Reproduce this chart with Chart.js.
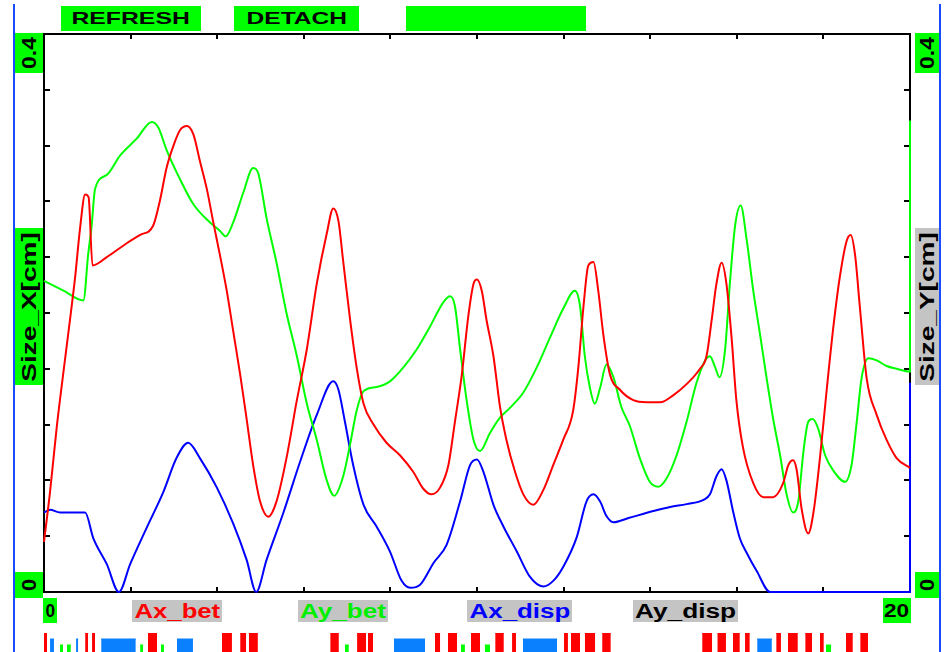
<!DOCTYPE html>
<html>
<head>
<meta charset="utf-8">
<title>Size_X / Size_Y</title>
<script src="https://cdn.jsdelivr.net/npm/chart.js@4.4.1/dist/chart.umd.min.js"></script>
<style>
  html, body { margin:0; padding:0; background:#fff; }
  body { width:951px; height:652px; position:relative; overflow:hidden; font-family:"Liberation Sans", Arial, sans-serif; font-weight:bold; }
  canvas { position:absolute; left:0; }
  #main { top:0; }
  #marks { top:633px; }
  .box { position:absolute; display:flex; align-items:center; justify-content:center; overflow:hidden; white-space:nowrap; }
  .green { background:#00ff00; }
  .gray { background:#c4c4c4; }
  .txt { display:inline-block; line-height:1; }
  .vbox .txt { position:absolute; left:50%; top:50%; }
  .edge { position:absolute; top:4px; bottom:0; width:2px; background:#1a4cff; }
</style>
</head>
<body>
<div class="edge" style="left:13px"></div>
<div class="edge" style="left:939px"></div>
<div id="labels"></div>
<canvas id="main" width="951" height="652"></canvas>
<canvas id="marks" width="951" height="19"></canvas>
<script>
// ==============================
// Data
// ==============================
const seriesNames = ["Ax_bet", "Ay_bet", "Ax_disp", "Ay_disp"];
const xTickLabels = ["0", "20"];
const yTickLabels = ["0", "0.4"];
const xTickValues = [0, 2, 4, 6, 8, 10, 12, 14, 16, 18, 20];
const yTickValues = [0, 0.04, 0.08, 0.12, 0.16, 0.2, 0.24, 0.28, 0.32, 0.36, 0.4];

const axBetX = [0, 0.14, 0.29, 0.45, 0.60, 0.72, 0.83, 0.95, 1.03, 1.12, 1.45, 1.91, 2.22, 2.52, 2.68, 2.83, 2.99, 3.14, 3.30, 3.45, 3.60, 3.76, 3.91, 4.06, 4.22, 4.37, 4.53, 4.68, 4.83, 4.99, 5.18, 5.37, 5.60, 5.84, 6.07, 6.30, 6.53, 6.68, 6.80, 6.91, 7.07, 7.22, 7.38, 7.61, 7.91, 8.22, 8.53, 8.76, 8.95, 9.15, 9.34, 9.49, 9.65, 9.80, 9.92, 10.0, 10.11, 10.22, 10.38, 10.53, 10.68, 10.88, 11.07, 11.30, 11.53, 11.76, 11.99, 12.22, 12.34, 12.46, 12.57, 12.69, 12.80, 12.92, 13.07, 13.30, 13.61, 13.92, 14.23, 14.53, 14.84, 15.15, 15.30, 15.42, 15.53, 15.65, 15.76, 15.88, 15.99, 16.14, 16.38, 16.61, 16.84, 17.07, 17.19, 17.30, 17.38, 17.50, 17.65, 17.77, 17.92, 18.07, 18.23, 18.38, 18.54, 18.63, 18.73, 18.84, 19.0, 19.23, 19.46, 19.69, 20.0];
const axBetY = [0.036, 0.072, 0.117, 0.158, 0.195, 0.226, 0.26, 0.285, 0.283, 0.234, 0.24, 0.25, 0.256, 0.2625, 0.281, 0.304, 0.32, 0.331, 0.334, 0.328, 0.309, 0.289, 0.265, 0.242, 0.216, 0.187, 0.156, 0.124, 0.091, 0.065, 0.054, 0.065, 0.096, 0.1375, 0.174, 0.221, 0.257, 0.275, 0.266, 0.237, 0.195, 0.161, 0.135, 0.12, 0.107, 0.098, 0.086, 0.074, 0.07, 0.075, 0.091, 0.122, 0.156, 0.198, 0.221, 0.224, 0.216, 0.195, 0.169, 0.133, 0.109, 0.086, 0.07, 0.0625, 0.073, 0.091, 0.109, 0.13, 0.161, 0.205, 0.234, 0.2365, 0.216, 0.184, 0.156, 0.145, 0.1375, 0.136, 0.136, 0.141, 0.149, 0.16, 0.169, 0.195, 0.221, 0.236, 0.221, 0.182, 0.1375, 0.104, 0.078, 0.068, 0.068, 0.078, 0.091, 0.0945, 0.088, 0.059, 0.042, 0.057, 0.096, 0.143, 0.19, 0.226, 0.252, 0.256, 0.242, 0.205, 0.153, 0.127, 0.109, 0.096, 0.089];

const ayBetX = [0, 0.45, 0.91, 1.02, 1.10, 1.18, 1.45, 1.76, 2.14, 2.49, 2.64, 2.83, 3.14, 3.45, 3.83, 4.06, 4.20, 4.37, 4.60, 4.83, 4.95, 5.14, 5.37, 5.60, 5.84, 6.07, 6.30, 6.53, 6.70, 6.91, 7.07, 7.22, 7.38, 7.68, 7.99, 8.30, 8.61, 8.91, 9.23, 9.38, 9.49, 9.61, 9.76, 9.92, 10.07, 10.30, 10.53, 10.76, 11.07, 11.38, 11.68, 11.99, 12.26, 12.38, 12.49, 12.61, 12.72, 12.84, 12.99, 13.15, 13.33, 13.53, 13.76, 13.99, 14.19, 14.38, 14.61, 14.84, 15.07, 15.27, 15.38, 15.50, 15.60, 15.73, 15.84, 15.96, 16.09, 16.23, 16.38, 16.54, 16.69, 16.84, 17.0, 17.15, 17.30, 17.42, 17.54, 17.65, 17.75, 17.88, 18.04, 18.23, 18.50, 18.65, 18.77, 18.88, 19.04, 19.23, 19.46, 19.69, 20.0, 20.0];
const ayBetY = [0.223, 0.216, 0.209, 0.242, 0.2625, 0.289, 0.299, 0.313, 0.325, 0.337, 0.333, 0.317, 0.296, 0.278, 0.265, 0.259, 0.255, 0.265, 0.286, 0.304, 0.30, 0.268, 0.236, 0.2, 0.169, 0.135, 0.109, 0.08, 0.069, 0.083, 0.106, 0.13, 0.144, 0.147, 0.151, 0.161, 0.174, 0.19, 0.208, 0.212, 0.205, 0.174, 0.1375, 0.109, 0.101, 0.114, 0.125, 0.132, 0.143, 0.161, 0.182, 0.203, 0.216, 0.205, 0.169, 0.146, 0.135, 0.146, 0.163, 0.154, 0.133, 0.119, 0.096, 0.079, 0.0755, 0.0815, 0.098, 0.122, 0.15, 0.166, 0.169, 0.161, 0.154, 0.174, 0.221, 0.2625, 0.277, 0.252, 0.216, 0.184, 0.153, 0.124, 0.098, 0.07, 0.057, 0.065, 0.101, 0.122, 0.124, 0.117, 0.098, 0.087, 0.079, 0.091, 0.122, 0.153, 0.1675, 0.166, 0.162, 0.16, 0.158, 0.338];

const axDispX = [0, 0.14, 0.37, 0.95, 1.14, 1.45, 1.73, 1.99, 2.37, 2.76, 3.06, 3.33, 3.60, 3.99, 4.37, 4.68, 4.90, 5.14, 5.53, 5.91, 6.30, 6.68, 6.80, 6.95, 7.14, 7.38, 7.68, 7.99, 8.26, 8.46, 8.68, 9.0, 9.30, 9.61, 9.84, 10.0, 10.15, 10.38, 10.61, 10.92, 11.22, 11.53, 11.76, 11.99, 12.30, 12.53, 12.69, 12.84, 12.99, 13.15, 13.50, 14.07, 14.46, 14.84, 15.23, 15.38, 15.53, 15.65, 15.76, 15.92, 16.07, 16.23, 16.46, 16.77, 20.0, 20.0];
const axDispY = [0.057, 0.059, 0.057, 0.057, 0.0385, 0.02, 0.0, 0.02, 0.046, 0.072, 0.096, 0.107, 0.096, 0.075, 0.049, 0.023, 0.0, 0.023, 0.057, 0.093, 0.127, 0.151, 0.145, 0.122, 0.091, 0.0625, 0.047, 0.029, 0.008, 0.003, 0.005, 0.021, 0.034, 0.065, 0.091, 0.095, 0.086, 0.0625, 0.047, 0.029, 0.011, 0.004, 0.008, 0.018, 0.039, 0.065, 0.07, 0.065, 0.0545, 0.05, 0.053, 0.058, 0.061, 0.063, 0.066, 0.07, 0.083, 0.088, 0.08, 0.057, 0.0385, 0.028, 0.015, 0.0, 0.0, 0.15];

const ayDispX = [0, 20];
const ayDispY = [0, 0];

// event marks under the plot, [start, end] along the same 0..20 axis
const redMarks = [[0, 0.07], [0.95, 1.02], [1.11, 1.18], [2.40, 2.61], [4.11, 4.34], [4.53, 4.67], [4.73, 4.94], [6.61, 6.81], [7.23, 7.44], [7.48, 7.60], [9.03, 9.15], [9.33, 9.54], [9.86, 10.07], [10.42, 10.62], [10.81, 10.90], [12.01, 12.10], [12.17, 12.38], [12.49, 12.73], [12.89, 13.09], [15.20, 15.43], [15.55, 15.75], [15.91, 16.07], [16.19, 16.30], [16.91, 17.02], [17.18, 17.41], [17.58, 17.74], [17.92, 18.01], [18.52, 18.68], [18.85, 19.03]];
const blueMarks = [[0.14, 0.23], [0.74, 0.79], [1.32, 2.12], [3.07, 3.44], [8.08, 8.80], [11.06, 11.85], [16.47, 16.81]];
const greenMarks = [[0.37, 0.44], [0.53, 0.62], [2.22, 2.29], [2.70, 2.77], [6.95, 7.04], [9.63, 9.72], [10.18, 10.30], [18.06, 18.18]];

// ==============================
// Text boxes round the plot
// ==============================
const labels = document.getElementById("labels");

function box(text, x, y, w, h, cls, color, size, textW, vertical) {
  const b = document.createElement("div");
  b.className = "box " + cls + (vertical ? " vbox" : "");
  b.style.cssText += `left:${x}px;top:${y}px;width:${w}px;height:${h}px;`;
  const s = document.createElement("span");
  s.className = "txt";
  s.textContent = text;
  s.style.fontSize = size + "px";
  s.style.color = color;
  b.appendChild(s);
  labels.appendChild(b);
  const k = textW ? textW / s.offsetWidth : 1;
  if (vertical) s.style.transform = `translate(-50%,-50%) rotate(-90deg) scaleX(${k})`;
  else s.style.transform = `scaleX(${k})`;
}

// buttons
box("REFRESH", 61, 6, 140, 25, "green", "#000", 17, 118);
box("DETACH", 234, 6, 125, 25, "green", "#000", 17, 101);
box("", 406, 6, 180, 25, "green", "#000", 17, 0);

// y axis ends and titles
box(yTickLabels[1], 15, 33, 28, 40, "green", "#000", 20, 32, true);
box("Size_X[cm]", 15, 228, 28, 157, "green", "#000", 20, 150, true);
box(yTickLabels[0], 15, 572, 28, 26, "green", "#000", 20, 12, true);
box(yTickLabels[1], 915, 33, 24, 40, "green", "#000", 20, 32, true);
box("Size_Y[cm]", 915, 228, 24, 157, "gray", "#000", 20, 150, true);
box(yTickLabels[0], 915, 572, 24, 26, "green", "#000", 20, 12, true);

// x axis ends and series names
box(xTickLabels[0], 43, 598, 14, 25, "green", "#000", 19, 10);
box(xTickLabels[1], 883, 598, 28, 25, "green", "#000", 19, 25);
const nameColors = ["#ff0000", "#00ee00", "#0000ff", "#000000"];
const nameBoxes = [[132, 90], [298, 90], [467, 105], [633, 105]];
seriesNames.forEach((n, i) => {
  box(n, nameBoxes[i][0], 600, nameBoxes[i][1], 22, "gray", nameColors[i], 20, nameBoxes[i][1] - 4);
});

// ==============================
// Frame and inner ticks
// ==============================
const frame = {
  id: "frame",
  beforeDatasetsDraw(chart) {
    const { ctx, chartArea: a, scales: { x, y } } = chart;
    ctx.save();
    ctx.strokeStyle = "#000";
    ctx.lineWidth = 2;
    ctx.strokeRect(a.left, a.top, a.right - a.left, a.bottom - a.top);
    ctx.beginPath();
    xTickValues.forEach(v => {
      const px = Math.round(x.getPixelForValue(v));
      ctx.moveTo(px, a.top); ctx.lineTo(px, a.top + 5);
      ctx.moveTo(px, a.bottom); ctx.lineTo(px, a.bottom - 5);
    });
    yTickValues.forEach(v => {
      const py = Math.round(y.getPixelForValue(v));
      ctx.moveTo(a.left, py); ctx.lineTo(a.left + 6, py);
      ctx.moveTo(a.right, py); ctx.lineTo(a.right - 6, py);
    });
    ctx.stroke();
    ctx.restore();
  }
};

function ser(label, xs, ys, color) {
  return {
    label, data: xs.map((x, i) => ({ x, y: ys[i] })),
    borderColor: color, borderWidth: 2, pointRadius: 0,
    cubicInterpolationMode: "monotone", fill: false, clip: false
  };
}

new Chart(document.getElementById("main"), {
  type: "line",
  data: { datasets: [
    ser(seriesNames[0], axBetX, axBetY, "#ff0000"),
    ser(seriesNames[1], ayBetX, ayBetY, "#00ff00"),
    ser(seriesNames[2], axDispX, axDispY, "#0000ff"),
    ser(seriesNames[3], ayDispX, ayDispY, "#000000")
  ]},
  options: {
    responsive: false, animation: false, events: [],
    layout: { padding: { left: 44, right: 41, top: 34, bottom: 60 } },
    plugins: { legend: { display: false }, tooltip: { enabled: false } },
    scales: {
      x: { type: "linear", min: 0, max: 20, display: false },
      y: { type: "linear", min: 0, max: 0.4, display: false }
    }
  },
  plugins: [frame]
});

// ==============================
// Mark strip under the plot
// ==============================
function markSet(marks, h, color) {
  const pts = [];
  marks.forEach(([a, b]) => pts.push({ x: a, y: h }, { x: b, y: h }, { x: b, y: null }));
  return { data: pts, fill: "origin", backgroundColor: color, borderColor: color, borderWidth: 1, pointRadius: 0, spanGaps: false };
}

new Chart(document.getElementById("marks"), {
  type: "line",
  data: { datasets: [
    markSet(redMarks, 19, "#ff0000"),
    markSet(blueMarks, 13, "#0a80ff"),
    markSet(greenMarks, 7, "#00ff00")
  ]},
  options: {
    responsive: false, animation: false, events: [],
    layout: { padding: { left: 44, right: 41, top: 0, bottom: 0 } },
    plugins: { legend: { display: false }, tooltip: { enabled: false } },
    scales: {
      x: { type: "linear", min: 0, max: 20, display: false },
      y: { type: "linear", min: 0, max: 19, display: false }
    }
  }
});
</script>
</body>
</html>
